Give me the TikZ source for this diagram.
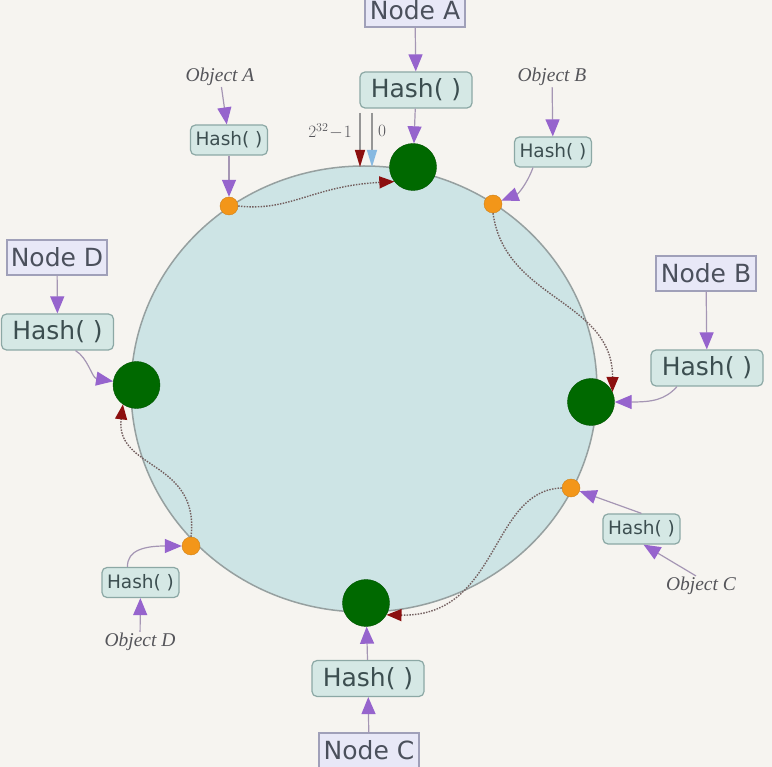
\documentclass[tikz,border=0pt]{standalone}
\usepackage{fontspec}
\usepackage{tikz}
\setsansfont{DejaVu Sans}
\newfontfamily\objserif{Liberation Serif}
\usetikzlibrary{
    arrows.meta
}
\tikzset{
  nbox/.style     = {draw=NodeLine, fill=NodeFill, line width=1.2pt, minimum width=100pt,
                     minimum height=35pt, inner sep=0pt, text=NodeText,
                     font=\sffamily\fontsize{25}{28}\selectfont},
  hbox/.style     = {draw=HashLine, fill=HashFill, line width=1.2pt, rounded corners=5pt,
                     minimum width=112pt, minimum height=36pt, inner sep=0pt, text=HashText,
                     font=\sffamily\fontsize{25}{28}\selectfont},
  shbox/.style    = {hbox, minimum width=77pt, minimum height=30pt,
                     font=\sffamily\fontsize{18.5}{21}\selectfont},
  obj/.style      = {inner sep=1pt, text=ObjText,
                     font=\objserif\itshape\fontsize{19.5}{22}\selectfont},
  peer/.style     = {circle, fill=PeerGreen, draw=PeerGreen!80!black, minimum size=47pt, inner sep=0pt},
  key/.style      = {circle, fill=KeyOrange, draw=KeyOrange!85!black, minimum size=18pt, inner sep=0pt},
  arr/.style      = {-{Triangle[length=17pt,width=14pt,color=ArrPurple]}, draw=ArrLine, line width=1.2pt},
  walk/.style     = {-{Triangle[length=15pt,width=12pt,color=WalkRed]}, draw=WalkLine,
                     line width=1.4pt, dash pattern=on 1.5pt off 1.3pt},
  ringmark/.style = {draw=MarkLine, line width=1.2pt}
}
\definecolor{BgCream}{RGB}{246,244,240}
\definecolor{RingFill}{RGB}{205,228,229}
\definecolor{RingLine}{RGB}{150,160,160}
\definecolor{NodeFill}{RGB}{232,232,247}
\definecolor{NodeLine}{RGB}{160,160,185}
\definecolor{NodeText}{RGB}{75,80,92}
\definecolor{HashFill}{RGB}{213,232,229}
\definecolor{HashLine}{RGB}{140,168,165}
\definecolor{HashText}{RGB}{60,78,80}
\definecolor{ObjText}{RGB}{85,85,90}
\definecolor{PeerGreen}{RGB}{0,105,0}
\definecolor{KeyOrange}{RGB}{243,150,25}
\definecolor{ArrPurple}{RGB}{150,100,205}
\definecolor{ArrLine}{RGB}{165,150,180}
\definecolor{WalkRed}{RGB}{140,15,15}
\definecolor{WalkLine}{RGB}{115,95,95}
\definecolor{ZeroBlue}{RGB}{135,185,225}
\definecolor{MarkLine}{RGB}{150,150,150}

\begin{document}
\begin{tikzpicture}[x=1pt,y=-1pt]
\fill[BgCream] (0,0) rectangle (772,767);
\useasboundingbox (0,0) rectangle (772,767);
% the ring
\draw[fill=RingFill, draw=RingLine, line width=1.5pt] (364,389) ellipse [x radius=233, y radius=223];
% servers on the ring
\node[peer] (pA) at (413,167) {};
\node[peer] (pB) at (591,402) {};
\node[peer] (pC) at (366,603) {};
\node[peer] (pD) at (136.5,385) {};
% objects on the ring
\node[key] (kA) at (229,206) {};
\node[key] (kB) at (493,204) {};
\node[key] (kC) at (571,488) {};
\node[key] (kD) at (191,546) {};
% Node A
\node[nbox, minimum height=34pt] (nA) at (415,10) {Node A};
\node[hbox] (hA) at (416,90) {Hash( )};
\draw[arr] (nA) -- (hA);
\draw[arr] (hA) -- (pA);
% Object A
\node[obj] (oA) at (220,77) {Object A};
\node[shbox] (hoA) at (229,140) {Hash( )};
\draw[arr] (oA) -- (hoA);
\draw[arr] (hoA) -- (kA);
% Object B
\node[obj] (oB) at (552,77) {Object B};
\node[shbox] (hoB) at (553,152) {Hash( )};
\draw[arr] (oB) -- (hoB);
\draw[arr] ([xshift=-20pt]hoB.south) .. controls (527,184) and (518,194) .. (kB);
% Node D
\node[nbox] (nD) at (57,257.5) {Node D};
\node[hbox] (hD) at (57.5,332) {Hash( )};
\draw[arr] (nD) -- (hD);
\draw[arr] ([xshift=18pt]hD.south) .. controls (88,358) and (92,378) .. (pD);
% Node B
\node[nbox] (nB) at (706,273.5) {Node B};
\node[hbox] (hNB) at (707,368) {Hash( )};
\draw[arr] (nB) -- (hNB);
\draw[arr] ([xshift=-30pt]hNB.south) .. controls (665,400) and (652,402) .. (pB);
% Object C
\node[shbox] (hoC) at (641.5,529) {Hash( )};
\node[obj] (oC) at (701,586) {Object C};
\draw[arr] ([xshift=-5pt]oC.north) -- ([xshift=2pt]hoC.south);
\draw[arr] (hoC.north) -- (kC);
% Object D
\node[shbox] (hoD) at (140.5,582.5) {Hash( )};
\node[obj] (oD) at (140,642) {Object D};
\draw[arr] (oD) -- (hoD);
\draw[arr] ([xshift=-13pt]hoD.north) .. controls (127,550) and (145,546) .. (kD);
% Node C
\node[hbox] (hC) at (368,678.5) {Hash( )};
\node[nbox] (nC) at (369,750.5) {Node C};
\draw[arr] (nC) -- (hC);
\draw[arr] (hC) -- (pC);
% clockwise walk to the next server
\draw[walk] (kA.east) .. controls (290,212) and (312,186) .. (pA.218);
\draw[walk] (kB.south) .. controls (505,300) and (613,300) .. (pB.25);
\draw[walk] (kC.west) .. controls (490,490) and (500,617) .. (pC.-30);
\draw[walk] (kD.north) .. controls (200,460) and (115,470) .. (pD.-125);
% start and end of the hash space
\coordinate (mHi) at (360,113);
\coordinate (mHiE) at (360,167);
\coordinate (mLo) at (372,113);
\coordinate (mLoE) at (372,167);
\draw[ringmark, -{Triangle[length=17pt,width=10pt,color=WalkRed]}] (mHi) -- (mHiE);
\draw[ringmark, -{Triangle[length=17pt,width=10pt,color=ZeroBlue]}] (mLo) -- (mLoE);
\node[font=\fontsize{17}{19}\selectfont, text=ObjText] (lHi) at (330,131) {$2^{32}\!-\!1$};
\node[font=\fontsize{17}{19}\selectfont, text=ObjText] (lLo) at (382,131) {$0$};
\end{tikzpicture}
\end{document}
